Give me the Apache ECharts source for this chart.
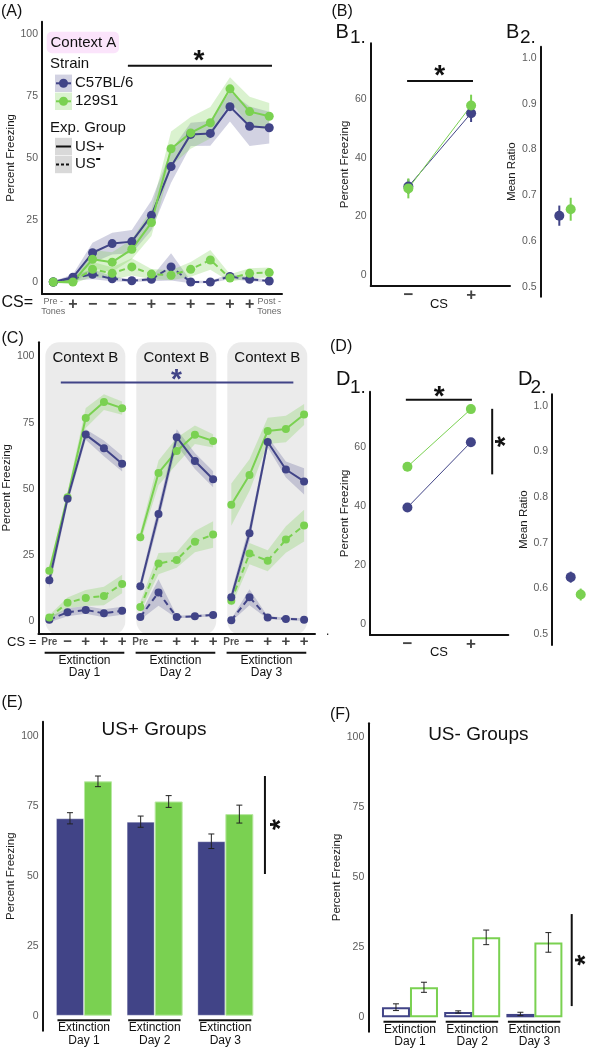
<!DOCTYPE html>
<html><head><meta charset="utf-8">
<script src="https://cdn.jsdelivr.net/npm/echarts@6/dist/echarts.min.js"></script>
<style>html,body{margin:0;padding:0;background:#fff;}#chart{width:589px;height:1050px;}</style>
</head><body><div id="chart"></div>
<script>
// ================= DATA =================
const strains = ['C57BL/6', '129S1'];
const expGroups = ['US+', 'US-'];
const freezeTicks100 = [0, 25, 50, 75, 100];
const freezeTicks60 = [0, 20, 40, 60];
const ratioTicks = [0.5, 0.6, 0.7, 0.8, 0.9, 1.0];

// (A) Acquisition, Context A
const aTrials = ['Pre -\nTones', '+', '−', '−', '−', '+', '−', '+', '−', '+', '+', 'Post -\nTones'];
const aC57Plus    = [0, 1.9, 11.8, 15.5, 16.3, 26.9, 46.6, 59.6, 60.0, 70.8, 62.9, 62.3];
const aC57PlusSE  = [0.3, 1.2, 4, 4.4, 4.7, 6, 6.5, 4.7, 5, 6, 8, 6.4];
const aS1Plus     = [0, 0, 9.2, 8.0, 13.2, 24.0, 53.8, 60.2, 64.3, 78.0, 68.8, 66.9];
const aS1PlusSE   = [0.3, 1, 3.7, 4, 4, 5.4, 7, 6.4, 6.4, 4.7, 6, 5.4];
const aC57Minus   = [0, 1.5, 3.1, 1.3, 0.5, 1.1, 6.1, 0, 0, 2.2, 1.1, 0.4];
const aC57MinusSE = [0.2, 1, 2, 1, 0.5, 0.8, 5.5, 0.5, 0.5, 1, 0.8, 0.5];
const aS1Minus    = [0, 0.3, 5.1, 3.5, 6.1, 3.2, 2.7, 5.1, 8.9, 1.6, 3.5, 3.8];
const aS1MinusSE  = [0.2, 1, 3, 2.5, 3.5, 2, 2, 3, 4, 1.5, 2, 2];

// (B) CS- vs CS+
const csPair = ['−', '+'];
const b1C57 = [30.2, 55.2], b1C57SE = [2.5, 3.0];
const b1S1  = [29.6, 57.8], b1S1SE  = [3.4, 3.7];
const b2Ratio   = [0.656, 0.670];
const b2RatioSE = [0.022, 0.025];

// (C) Extinction, Context B
const cTrials = ['Pre', '−', '+', '+', '+', 'Pre', '−', '+', '+', '+', 'Pre', '−', '+', '+', '+'];
const cDays = ['Extinction\nDay 1', 'Extinction\nDay 2', 'Extinction\nDay 3'];
const cContext = ['Context B', 'Context B', 'Context B'];
const cC57Plus    = [15.4, 46.2, 70.5, 65.3, 59.5, 13.1, 40.5, 69.5, 60.5, 53.6, 9.0, 33.2, 67.7, 57.3, 52.8];
const cC57PlusSE  = [3, 2, 2, 3, 3, 2, 3, 3, 3, 3, 2, 3, 2, 3, 5];
const cS1Plus     = [19.0, 46.8, 76.8, 82.8, 80.5, 31.7, 56.0, 64.3, 70.4, 68.1, 44.0, 55.2, 71.9, 72.6, 78.1];
const cS1PlusSE   = [2, 2, 3.8, 3, 2.5, 2, 4.7, 5, 3.5, 2.5, 8, 6, 5, 5, 4];
const cC57Minus   = [0.5, 3.3, 4.2, 2.9, 3.9, 1.5, 10.8, 1.5, 1.8, 2.3, 0.3, 9.0, 1.3, 0.8, 0.5];
const cC57MinusSE = [1, 1.5, 1.5, 1.5, 1.5, 1, 5, 0.5, 0.5, 0.5, 0.5, 3, 0.5, 0.5, 0.5];
const cS1Minus    = [1.3, 6.9, 8.7, 9.5, 14.0, 5.3, 21.7, 23.1, 30.0, 32.7, 7.7, 25.5, 22.8, 30.8, 36.1];
const cS1MinusSE  = [1, 2, 3, 3.5, 3.5, 2, 4, 3, 4, 5, 2, 4, 4, 5, 6];

// (D) CS- vs CS+ during extinction
const d1C57 = [39.4, 61.5], d1C57SE = [1.2, 1.2];
const d1S1  = [53.2, 72.7], d1S1SE  = [1.5, 1.2];
const d2Ratio   = [0.625, 0.587];
const d2RatioSE = [0.012, 0.013];

// (E) US+ groups, (F) US- groups
const exDays = ['Extinction\nDay 1', 'Extinction\nDay 2', 'Extinction\nDay 3'];
const eC57 = [70.5, 69.3, 62.3], eC57SE = [2.0, 2.0, 2.6];
const eS1  = [83.7, 76.5, 72.0], eS1SE  = [1.9, 2.1, 3.2];
const fC57 = [3.6, 1.9, 1.2],    fC57SE = [1.2, 0.4, 0.6];
const fS1  = [10.7, 28.5, 26.7], fS1SE  = [1.8, 2.6, 3.5];

// ================= STYLE / HELPERS =================
const FONT = '"Liberation Sans", Arial, Helvetica, sans-serif';
const NAVY = '#414487', GREEN = '#7AD151';
const NAVY_F = 'rgba(65,68,135,0.24)', GREEN_F = 'rgba(122,209,81,0.28)';
const TICK_C = '#5c5c5c';
const chart = echarts.init(document.getElementById('chart'), null, {renderer: 'canvas'});

function fmtTick(vals, dec) {
  return v => { for (const t of vals) if (Math.abs(v - t) < 1e-6) return dec ? t.toFixed(dec) : String(t); return ''; };
}
function yAx(g, min, max, ticks, name, gap, dec) {
  return {type: 'value', gridIndex: g, min, max, z: 5,
    axisLine: {show: true, onZero: false, lineStyle: {color: '#111', width: 2}},
    axisTick: {show: false}, splitLine: {show: false},
    axisLabel: {customValues: ticks, formatter: fmtTick(ticks, dec), color: TICK_C, fontSize: 10.5, fontFamily: FONT, margin: 4},
    name, nameLocation: 'middle', nameRotate: 90, nameGap: gap,
    nameTextStyle: {fontSize: 11.5, color: '#1a1a1a', fontFamily: FONT}};
}
function xAx(g, min, max, showLine, labels, rich, margin, fmt) {
  const ax = {type: 'value', gridIndex: g, min, max, z: 5,
    axisLine: {show: showLine, onZero: false, lineStyle: {color: '#111', width: 2}},
    axisTick: {show: false}, splitLine: {show: false}, axisLabel: {show: false}};
  if (labels) {
    ax.axisLabel = {show: true, customValues: labels.vals, formatter: fmt, rich, margin, fontFamily: FONT, hideOverlap: false};
  }
  return ax;
}
const catFmt = (arr, off) => v => {
  const i = Math.round(v - off); const s = arr[i];
  if (s === undefined || Math.abs(v - off - i) > 1e-6) return '';
  if (s.length > 1) return s.split('\n').map(l => '{s|' + l + '}').join('\n');
  return '{b|' + s + '}';
};

const series = [];
function ribbon(g, xs, m, se, segs, fill) {
  series.push({type: 'custom', xAxisIndex: g, yAxisIndex: g, silent: true, clip: false, z: 1,
    data: segs.map(s => [xs[s[0]], m[s[0]]]),
    renderItem: (p, api) => {
      const s = segs[p.dataIndex], up = [], dn = [];
      for (let i = s[0]; i <= s[1]; i++) {
        up.push(api.coord([xs[i], m[i] + se[i]]));
        dn.push(api.coord([xs[i], m[i] - se[i]]));
      }
      return {type: 'polygon', shape: {points: up.concat(dn.reverse())}, style: {fill}};
    }});
}
function trace(g, xs, m, segs, color, dashed, size) {
  segs.forEach(s => series.push({type: 'line', xAxisIndex: g, yAxisIndex: g, silent: true, z: 3,
    data: xs.slice(s[0], s[1] + 1).map((x, k) => [x, m[s[0] + k]]),
    symbol: 'circle', symbolSize: size, showAllSymbol: true, animation: false,
    lineStyle: {color, width: 2, type: dashed ? [6, 4] : 'solid'}, itemStyle: {color}}));
}
function points(g, xs, m, se, color, size, joinLine) {
  if (joinLine) series.push({type: 'line', xAxisIndex: g, yAxisIndex: g, silent: true, z: 2,
    data: xs.map((x, i) => [x, m[i]]), symbol: 'none', lineStyle: {color, width: 1}});
  series.push({type: 'custom', xAxisIndex: g, yAxisIndex: g, silent: true, z: 3, clip: false,
    data: xs.map((x, i) => [x, m[i], se[i]]),
    renderItem: (p, api) => {
      const x = api.value(0), y = api.value(1), e = api.value(2);
      const a = api.coord([x, y - e]), b = api.coord([x, y + e]);
      return {type: 'line', shape: {x1: a[0], y1: a[1], x2: b[0], y2: b[1]}, style: {stroke: color, lineWidth: 2}};
    }});
  series.push({type: 'scatter', xAxisIndex: g, yAxisIndex: g, silent: true, z: 4,
    data: xs.map((x, i) => [x, m[i]]), symbolSize: size, itemStyle: {color, opacity: 1}});
}
function bars(g, m, se, side, fill, stroke, lw) {
  series.push({type: 'custom', xAxisIndex: g, yAxisIndex: g, silent: true, z: 2, clip: false,
    data: m.map((v, i) => [i + 1, v, se[i]]),
    renderItem: (p, api) => {
      const x = api.value(0), v = api.value(1), e = api.value(2);
      const w = 28, b0 = api.coord([x, 0]), t = api.coord([x, v]), cx = b0[0] + side * w / 2;
      const lo = api.coord([x, v - e])[1], hi = api.coord([x, v + e])[1], ins = lw / 2;
      const k = {stroke: '#222', lineWidth: 1};
      return {type: 'group', children: [
        {type: 'rect', shape: {x: cx - w / 2 + ins, y: t[1] + ins, width: w - 2 * ins, height: b0[1] - t[1] - 2 * ins}, style: {fill, stroke, lineWidth: lw}},
        {type: 'line', shape: {x1: cx, y1: lo, x2: cx, y2: hi}, style: k},
        {type: 'line', shape: {x1: cx - 3, y1: lo, x2: cx + 3, y2: lo}, style: k},
        {type: 'line', shape: {x1: cx - 3, y1: hi, x2: cx + 3, y2: hi}, style: k}]};
    }});
}
function txt(x, y, text, size, o) {
  o = o || {};
  return {type: 'text', x, y, rotation: o.rot || 0, silent: true, z: 100,
    style: {text, x: 0, y: o.dy || 0, font: (o.bold ? 'bold ' : '') + size + 'px ' + FONT, fill: o.color || '#111',
      align: o.align || 'left', verticalAlign: 'middle', textAlign: o.align || 'left', textVerticalAlign: 'middle'}};
}
function barLabels(g, labels) {
  series.push({type: 'custom', xAxisIndex: g, yAxisIndex: g, silent: true, z: 2, clip: false,
    data: labels.map((l, i) => [i + 1, 0]),
    renderItem: (p, api) => {
      const b = api.coord([api.value(0), 0]), lines = labels[p.dataIndex].split('\n');
      return {type: 'group', children: [
        {type: 'line', shape: {x1: b[0] - 26.5, y1: b[1] + 4.5, x2: b[0] + 26, y2: b[1] + 4.5}, style: {stroke: '#111', lineWidth: 2}},
        txt(b[0], b[1] + 12.3, lines[0], 12, {align: 'center'}),
        txt(b[0], b[1] + 24.5, lines[1], 12, {align: 'center'})]};
    }});
}

// ================= LAYOUT =================
const grids = [
  {left: 42, top: 21.7, width: 240, height: 272.3},      // A
  {left: 370.7, top: 43.3, width: 139.3, height: 242.4}, // B1
  {left: 540.7, top: 46.7, width: 35.7, height: 250},    // B2
  {left: 36.7, top: 342.3, width: 278.3, height: 291},   // C
  {left: 370, top: 391.7, width: 138.3, height: 243.3},  // D1
  {left: 552, top: 394.3, width: 33.7, height: 250.7},   // D2
  {left: 42.7, top: 721.7, width: 218, height: 309},     // E
  {left: 368.3, top: 723.3, width: 197.2, height: 308.4} // F
];
const C_YMIN = -4.65, C_YMAX = 105.4;
const aX = aTrials.map((_, i) => i), cX = cTrials.map((_, i) => i);
const cStarts = cTrials.map((t, i) => t === 'Pre' ? i : -1).filter(i => i >= 0);
const cSegs = cStarts.map((s, k) => [s, k + 1 < cStarts.length ? cStarts[k + 1] - 1 : cTrials.length - 1]);
const dodge = 0.25;

const richA = {s: {fontSize: 9, color: '#6a6a6a', lineHeight: 9.5, fontFamily: FONT},
               b: {fontSize: 16, fontWeight: 'bold', color: '#444', lineHeight: 16, fontFamily: FONT}};
const richC = {s: {fontSize: 10, fontWeight: 'bold', color: '#555', lineHeight: 16, fontFamily: FONT},
               b: {fontSize: 15, fontWeight: 'bold', color: '#444', lineHeight: 16, fontFamily: FONT}};
const richB = {b: {fontSize: 17, fontWeight: 'bold', color: '#444', lineHeight: 17, fontFamily: FONT}};

const xAxes = [
  xAx(0, -0.575, 11.65, true, {vals: aX}, richA, 3, catFmt(aTrials, 0)),
  xAx(1, 0.40, 2.62, true, {vals: [1, 2]}, richB, 1, catFmt(csPair, 1)),
  xAx(2, -0.066, 1.5, false),
  xAx(3, -0.6, 14.6, true, {vals: cX}, richC, 1, catFmt(cTrials, 0)),
  xAx(4, 0.41, 2.59, true, {vals: [1, 2]}, richB, 1, catFmt(csPair, 1)),
  xAx(5, -0.185, 1.5, false),
  xAx(6, 0.416, 3.5, false),
  xAx(7, 0.33, 3.5, false)
];
const yAxes = [
  yAx(0, -4.85, 105.1, freezeTicks100, 'Percent Freezing', 23),
  yAx(1, -3.54, 79.0, freezeTicks60, 'Percent Freezing', 16.5),
  yAx(2, 0.4795, 1.024, ratioTicks, 'Mean Ratio', 19, 1),
  yAx(3, C_YMIN, C_YMAX, freezeTicks100, 'Percent Freezing', 22.5),
  yAx(4, -3.8, 78.6, freezeTicks60, 'Percent Freezing', 18.5),
  yAx(5, 0.4766, 1.025, ratioTicks, 'Mean Ratio', 19, 1),
  yAx(6, -5.36, 105, freezeTicks100, 'Percent Freezing', 25),
  yAx(7, -5.13, 104.8, freezeTicks100, 'Percent Freezing', 25)
];

// ---- C: context panels, day underlines ----
series.push({type: 'custom', xAxisIndex: 3, yAxisIndex: 3, silent: true, z: 0, clip: false,
  data: cSegs.map(s => [s[0], 0]),
  renderItem: (p, api) => {
    const s = cSegs[p.dataIndex];
    const tl = api.coord([s[0], C_YMAX]), br = api.coord([s[1], C_YMIN]);
    const x0 = tl[0] - 4, x1 = br[0] + 3.2, mid = (x0 + x1) / 2;
    const ty = api.coord([s[0], 100])[1];
    const u0 = tl[0] - 4.7, u1 = br[0] + 2.2, um = (u0 + u1) / 2, lines = cDays[p.dataIndex].split('\n');
    return {type: 'group', children: [
      {type: 'rect', shape: {x: x0, y: tl[1], width: x1 - x0, height: br[1] + 1.7 - tl[1], r: 14}, style: {fill: '#ebebeb'}},
      txt(mid, ty + 1, cContext[p.dataIndex], 15, {align: 'center'}),
      {type: 'line', shape: {x1: u0, y1: br[1] + 19.4, x2: u1, y2: br[1] + 19.4}, style: {stroke: '#111', lineWidth: 2}},
      txt(um, br[1] + 27.7, lines[0], 12, {align: 'center'}),
      txt(um, br[1] + 39.4, lines[1], 12, {align: 'center'})]};
  }});

// ---- A ----
ribbon(0, aX, aC57Plus, aC57PlusSE, [[0, 11]], NAVY_F);
ribbon(0, aX, aS1Plus, aS1PlusSE, [[0, 11]], GREEN_F);
ribbon(0, aX, aC57Minus, aC57MinusSE, [[0, 11]], NAVY_F);
ribbon(0, aX, aS1Minus, aS1MinusSE, [[0, 11]], GREEN_F);
trace(0, aX, aC57Minus, [[0, 11]], NAVY, true, 9);
trace(0, aX, aS1Minus, [[0, 11]], GREEN, true, 9);
trace(0, aX, aC57Plus, [[0, 11]], NAVY, false, 9);
trace(0, aX, aS1Plus, [[0, 11]], GREEN, false, 9);

// ---- B ----
points(1, [1, 2], b1C57, b1C57SE, NAVY, 10, true);
points(1, [1, 2], b1S1, b1S1SE, GREEN, 10, true);
points(2, [1 - dodge], [b2Ratio[0]], [b2RatioSE[0]], NAVY, 10, false);
points(2, [1 + dodge], [b2Ratio[1]], [b2RatioSE[1]], GREEN, 10, false);

// ---- C ----
ribbon(3, cX, cC57Plus, cC57PlusSE, cSegs, NAVY_F);
ribbon(3, cX, cS1Plus, cS1PlusSE, cSegs, GREEN_F);
ribbon(3, cX, cC57Minus, cC57MinusSE, cSegs, NAVY_F);
ribbon(3, cX, cS1Minus, cS1MinusSE, cSegs, GREEN_F);
trace(3, cX, cC57Minus, cSegs, NAVY, true, 8);
trace(3, cX, cS1Minus, cSegs, GREEN, true, 8);
trace(3, cX, cS1Plus, cSegs, GREEN, false, 8);
trace(3, cX, cC57Plus, cSegs, NAVY, false, 8);

// ---- D ----
points(4, [1, 2], d1C57, d1C57SE, NAVY, 10, true);
points(4, [1, 2], d1S1, d1S1SE, GREEN, 10, true);
points(5, [1 - dodge], [d2Ratio[0]], [d2RatioSE[0]], NAVY, 10, false);
points(5, [1 + dodge], [d2Ratio[1]], [d2RatioSE[1]], GREEN, 10, false);

// ---- E / F ----
bars(6, eC57, eC57SE, -1, NAVY, 'rgba(255,255,255,0.3)', 1);
bars(6, eS1, eS1SE, 1, GREEN, '#b9e8a3', 1);
barLabels(6, exDays);
bars(7, fC57, fC57SE, -1, '#ffffff', NAVY, 2);
bars(7, fS1, fS1SE, 1, '#ffffff', GREEN, 2);
barLabels(7, exDays);

chart.setOption({
  animation: false, backgroundColor: '#fff',
  grid: grids, xAxis: xAxes, yAxis: yAxes, series
});

// ================= ANNOTATIONS =================
const px = (g, x, y) => chart.convertToPixel({gridIndex: g}, [x, y]);
const G = [];
const STAR = 28, SDY = 0.2 * STAR;
function sigH(g, x1, x2, y, sx, sy, color) {
  const a = px(g, x1, y), b = px(g, x2, y), s = px(g, sx, sy);
  G.push({type: 'line', z: 100, shape: {x1: a[0], y1: a[1], x2: b[0], y2: b[1]}, style: {stroke: color, lineWidth: 2}});
  G.push(txt(s[0], s[1], '*', STAR, {bold: true, align: 'center', color, dy: SDY}));
}
function sigV(g, x, y1, y2, sx, sy) {
  const a = px(g, x, y1), b = px(g, x, y2), s = px(g, sx, sy);
  G.push({type: 'line', z: 100, shape: {x1: a[0], y1: a[1], x2: b[0], y2: b[1]}, style: {stroke: '#111', lineWidth: 2}});
  G.push(txt(s[0], s[1], '*', STAR, {bold: true, align: 'center', dy: SDY, rot: Math.PI / 2}));
}
sigH(0, 3.8, 11.14, 87.3, 7.42, 91.5, '#111');
sigH(1, 0.98, 2.03, 66.2, 1.5, 69.6, '#111');
sigH(3, 0.63, 13.41, 90.2, 6.99, 93.2, NAVY);
sigH(4, 0.975, 2.016, 75.9, 1.5, 78.6, '#111');
sigV(4, 2.336, 72.8, 50.6, 2.47, 61.7);
sigV(6, 3.56, 85.6, 50.6, 3.71, 68.3);
sigV(7, 3.60, 36.8, 4.0, 3.75, 20.4);

// panel labels
G.push(txt(1, 12, '(A)', 16), txt(331.5, 11.7, '(B)', 16), txt(1.5, 339, '(C)', 16),
       txt(330, 346.7, '(D)', 16), txt(1.5, 703, '(E)', 16), txt(330, 715, '(F)', 16));
G.push(txt(335.5, 32.7, 'B', 20), txt(350, 37.8, '1.', 19), txt(506, 32.7, 'B', 20), txt(520, 37.8, '2.', 19));
G.push(txt(336, 379, 'D', 20), txt(350, 387.5, '1.', 19), txt(518, 379, 'D', 20), txt(530.5, 387.5, '2.', 19));
G.push(txt(1.5, 302.7, 'CS=', 16), txt(7, 642.3, 'CS =', 13), txt(326, 632, '.', 12));
G.push(txt(439, 304, 'CS', 13, {align: 'center'}), txt(439, 652.7, 'CS', 13, {align: 'center'}));
G.push(txt(154, 729.3, 'US+ Groups', 19, {align: 'center'}), txt(478.3, 735, 'US- Groups', 19, {align: 'center'}));

// legend of panel A
G.push({type: 'rect', z: 99, shape: {x: 46.7, y: 31.7, width: 72.3, height: 21.6, r: 5}, style: {fill: '#fbe4fb'}});
G.push(txt(50.5, 42.5, 'Context A', 15), txt(50, 64, 'Strain', 15), txt(50, 127.7, 'Exp. Group', 15));
[[NAVY, NAVY_F, 83.3], [GREEN, GREEN_F, 101.3]].forEach((k, i) => {
  G.push({type: 'rect', z: 99, shape: {x: 55, y: k[2] - 8.7, width: 17, height: 17.4}, style: {fill: '#ffffff'}});
  G.push({type: 'rect', z: 99, shape: {x: 55, y: k[2] - 8.7, width: 17, height: 17.4}, style: {fill: k[1]}});
  G.push({type: 'line', z: 100, shape: {x1: 56, y1: k[2], x2: 71, y2: k[2]}, style: {stroke: k[0], lineWidth: 2}});
  G.push({type: 'circle', z: 100, shape: {cx: 63.5, cy: k[2], r: 4.5}, style: {fill: k[0]}});
  G.push(txt(75, k[2], strains[i], 15));
});
[[146.5, false], [164.5, true]].forEach((k, i) => {
  G.push({type: 'rect', z: 99, shape: {x: 55, y: k[0] - 8.7, width: 17, height: 17.4}, style: {fill: '#d9d9d9'}});
  G.push({type: 'line', z: 100, shape: {x1: 56, y1: k[0], x2: 71, y2: k[0]}, style: {stroke: '#111', lineWidth: 2, lineDash: k[1] ? [3, 2] : null}});
});
G.push(txt(75, 146.7, expGroups[0], 15));
G.push(txt(75, 164, expGroups[1].slice(0, 2), 15), txt(95.5, 158.5, '-', 16, {bold: true}));

chart.setOption({graphic: {elements: G}});
</script></body></html>
